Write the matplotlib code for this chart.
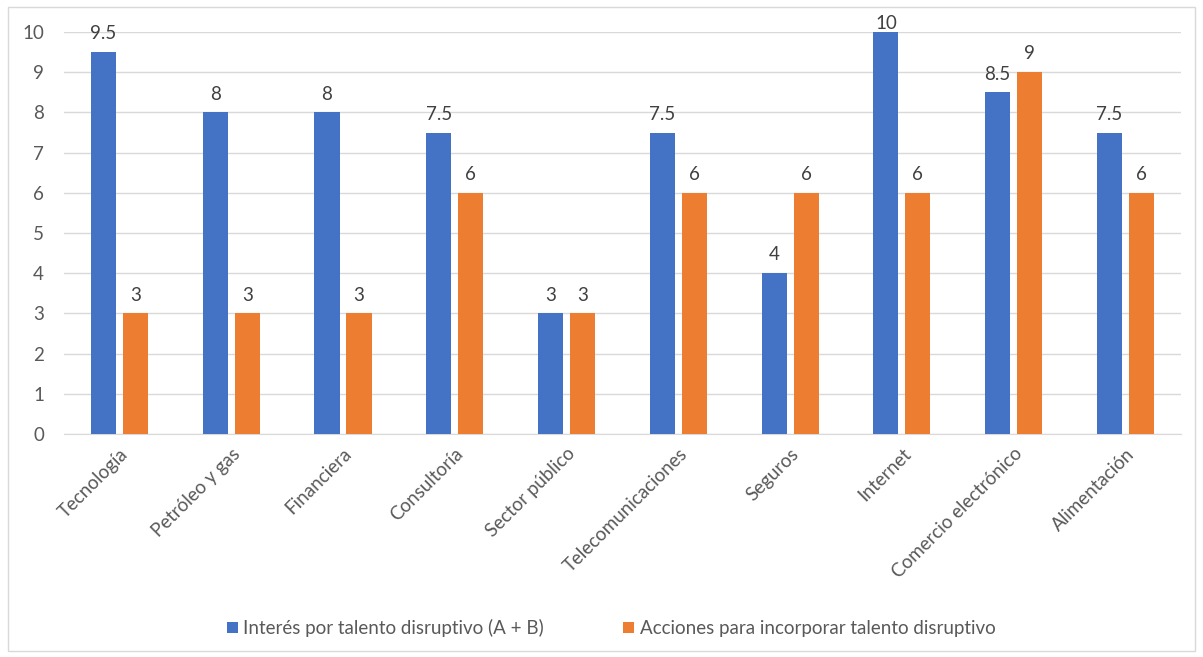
import numpy as np
import matplotlib.pyplot as plt
from matplotlib.patches import Rectangle

categorias = ['Tecnología', 'Petróleo y gas', 'Financiera', 'Consultoría', 'Sector público',
              'Telecomunicaciones', 'Seguros', 'Internet', 'Comercio electrónico', 'Alimentación']
interes = [9.5, 8, 8, 7.5, 3, 7.5, 4, 10, 8.5, 7.5]
acciones = [3, 3, 3, 6, 3, 6, 6, 6, 9, 6]
serie_nombres = ['Interés por talento disruptivo (A + B)', 'Acciones para incorporar talento disruptivo']

azul = '#4472C4'
naranja = '#ED7D31'
gris = '#595959'

plt.rcParams['font.family'] = ['Lato', 'DejaVu Sans']
fs = 13.5

fig = plt.figure(figsize=(12.03, 6.57), dpi=100)
# marco del grafico
fig.patches.append(Rectangle((8/1203, 6/657), 1187/1203, 644/657, transform=fig.transFigure,
                             fill=False, edgecolor='#D9D9D9', linewidth=1))
ax = fig.add_axes([0.0528, 0.3394, 0.9292, 0.6119])

x = np.arange(len(categorias))
w = 0.225
off = 0.143
b1 = ax.bar(x - off, interes, w, color=azul, label=serie_nombres[0], zorder=3)
b2 = ax.bar(x + off, acciones, w, color=naranja, label=serie_nombres[1], zorder=3)

ymax = 10
for bars, vals in ((b1, interes), (b2, acciones)):
    for r, v in zip(bars, vals):
        dy = 0 if v >= ymax else 7  # la etiqueta del maximo queda pegada a la barra
        ax.annotate('%g' % v, (r.get_x() + r.get_width() / 2, v), xytext=(0, dy),
                    textcoords='offset points', ha='center', va='bottom',
                    fontsize=fs, color='#404040', annotation_clip=False)

ax.set_xlim(-0.5, len(categorias) - 0.5)
ax.set_ylim(0, ymax)
ax.set_yticks(range(0, 11))
ax.yaxis.grid(True, color='#D9D9D9', linewidth=1, zorder=0)
ax.set_axisbelow(True)
for s in ['top', 'right', 'left']:
    ax.spines[s].set_visible(False)
ax.spines['bottom'].set_color('#D9D9D9')
ax.tick_params(axis='both', length=0, labelsize=fs, colors=gris)
ax.tick_params(axis='y', pad=14)
ax.set_xticks(x)
ax.set_xticklabels(categorias, rotation=45, ha='right', rotation_mode='anchor')
ax.tick_params(axis='x', pad=8)

fig.legend(handles=[b1, b2], loc='center', bbox_to_anchor=(0.508, 0.044), ncol=2,
           frameon=False, fontsize=fs, handlelength=0.6, handleheight=0.6,
           handletextpad=0.3, columnspacing=4.2, labelcolor=gris)

fig.savefig('out.png', dpi=100)
